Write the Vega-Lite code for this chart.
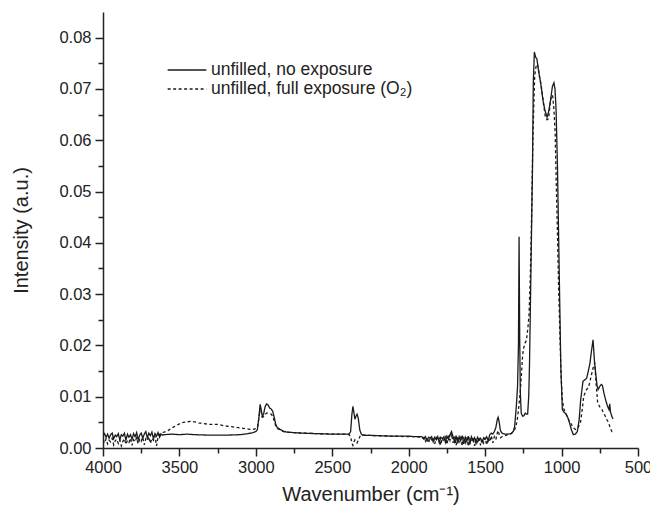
{
  "$schema": "https://vega.github.io/schema/vega-lite/v6.json",
  "width": 535,
  "height": 436,
  "autosize": "none",
  "padding": {"left": 103, "top": 12, "right": 12, "bottom": 65},
  "background": "white",
  "config": {
    "view": {"stroke": null},
    "axis": {
      "grid": false,
      "domainColor": "#222222",
      "domainWidth": 1.5,
      "tickColor": "#222222",
      "tickWidth": 1.5,
      "labelFont": "Liberation Sans",
      "labelFontSize": 16.5,
      "labelColor": "#222222",
      "titleFont": "Liberation Sans",
      "titleFontSize": 20,
      "titleFontWeight": "normal",
      "titleColor": "#222222"
    },
    "legend": {
      "labelFont": "Liberation Sans",
      "labelFontSize": 17.5,
      "labelColor": "#222222"
    }
  },
  "datasets": {
    "spectra": [
      {"w":4000,"i":0.0024,"s":"unfilled, no exposure"},{"w":3990,"i":0.0028,"s":"unfilled, no exposure"},{"w":3980,"i":0.0021,"s":"unfilled, no exposure"},{"w":3970,"i":0.0027,"s":"unfilled, no exposure"},{"w":3960,"i":0.0019,"s":"unfilled, no exposure"},{"w":3950,"i":0.0026,"s":"unfilled, no exposure"},{"w":3940,"i":0.0029,"s":"unfilled, no exposure"},{"w":3930,"i":0.0018,"s":"unfilled, no exposure"},{"w":3920,"i":0.0025,"s":"unfilled, no exposure"},{"w":3910,"i":0.0022,"s":"unfilled, no exposure"},{"w":3900,"i":0.0028,"s":"unfilled, no exposure"},{"w":3890,"i":0.0016,"s":"unfilled, no exposure"},{"w":3880,"i":0.0026,"s":"unfilled, no exposure"},{"w":3870,"i":0.0023,"s":"unfilled, no exposure"},{"w":3860,"i":0.0029,"s":"unfilled, no exposure"},{"w":3850,"i":0.0015,"s":"unfilled, no exposure"},{"w":3840,"i":0.0027,"s":"unfilled, no exposure"},{"w":3830,"i":0.0021,"s":"unfilled, no exposure"},{"w":3820,"i":0.0026,"s":"unfilled, no exposure"},{"w":3810,"i":0.0017,"s":"unfilled, no exposure"},{"w":3800,"i":0.0028,"s":"unfilled, no exposure"},{"w":3790,"i":0.0022,"s":"unfilled, no exposure"},{"w":3780,"i":0.0030,"s":"unfilled, no exposure"},{"w":3770,"i":0.0016,"s":"unfilled, no exposure"},{"w":3760,"i":0.0025,"s":"unfilled, no exposure"},{"w":3750,"i":0.0029,"s":"unfilled, no exposure"},{"w":3740,"i":0.0019,"s":"unfilled, no exposure"},{"w":3730,"i":0.0027,"s":"unfilled, no exposure"},{"w":3720,"i":0.0032,"s":"unfilled, no exposure"},{"w":3710,"i":0.0020,"s":"unfilled, no exposure"},{"w":3700,"i":0.0029,"s":"unfilled, no exposure"},{"w":3690,"i":0.0024,"s":"unfilled, no exposure"},{"w":3680,"i":0.0031,"s":"unfilled, no exposure"},{"w":3670,"i":0.0018,"s":"unfilled, no exposure"},{"w":3660,"i":0.0028,"s":"unfilled, no exposure"},{"w":3650,"i":0.0023,"s":"unfilled, no exposure"},{"w":3640,"i":0.0030,"s":"unfilled, no exposure"},{"w":3630,"i":0.0021,"s":"unfilled, no exposure"},{"w":3620,"i":0.0027,"s":"unfilled, no exposure"},{"w":3610,"i":0.0025,"s":"unfilled, no exposure"},{"w":3600,"i":0.0026,"s":"unfilled, no exposure"},{"w":3550,"i":0.0027,"s":"unfilled, no exposure"},{"w":3500,"i":0.0026,"s":"unfilled, no exposure"},{"w":3450,"i":0.0027,"s":"unfilled, no exposure"},{"w":3400,"i":0.0026,"s":"unfilled, no exposure"},{"w":3300,"i":0.0025,"s":"unfilled, no exposure"},{"w":3200,"i":0.0025,"s":"unfilled, no exposure"},{"w":3100,"i":0.0026,"s":"unfilled, no exposure"},{"w":3050,"i":0.0028,"s":"unfilled, no exposure"},{"w":3020,"i":0.0030,"s":"unfilled, no exposure"},{"w":3000,"i":0.0032,"s":"unfilled, no exposure"},{"w":2990,"i":0.0036,"s":"unfilled, no exposure"},{"w":2980,"i":0.0060,"s":"unfilled, no exposure"},{"w":2972,"i":0.0085,"s":"unfilled, no exposure"},{"w":2965,"i":0.0075,"s":"unfilled, no exposure"},{"w":2958,"i":0.0062,"s":"unfilled, no exposure"},{"w":2950,"i":0.0065,"s":"unfilled, no exposure"},{"w":2940,"i":0.0080,"s":"unfilled, no exposure"},{"w":2930,"i":0.0086,"s":"unfilled, no exposure"},{"w":2920,"i":0.0084,"s":"unfilled, no exposure"},{"w":2910,"i":0.0078,"s":"unfilled, no exposure"},{"w":2900,"i":0.0076,"s":"unfilled, no exposure"},{"w":2890,"i":0.0072,"s":"unfilled, no exposure"},{"w":2880,"i":0.0060,"s":"unfilled, no exposure"},{"w":2870,"i":0.0046,"s":"unfilled, no exposure"},{"w":2860,"i":0.0040,"s":"unfilled, no exposure"},{"w":2840,"i":0.0036,"s":"unfilled, no exposure"},{"w":2820,"i":0.0033,"s":"unfilled, no exposure"},{"w":2800,"i":0.0031,"s":"unfilled, no exposure"},{"w":2750,"i":0.0030,"s":"unfilled, no exposure"},{"w":2700,"i":0.0029,"s":"unfilled, no exposure"},{"w":2600,"i":0.0028,"s":"unfilled, no exposure"},{"w":2500,"i":0.0027,"s":"unfilled, no exposure"},{"w":2420,"i":0.0027,"s":"unfilled, no exposure"},{"w":2390,"i":0.0027,"s":"unfilled, no exposure"},{"w":2380,"i":0.0032,"s":"unfilled, no exposure"},{"w":2372,"i":0.0065,"s":"unfilled, no exposure"},{"w":2365,"i":0.0081,"s":"unfilled, no exposure"},{"w":2358,"i":0.0068,"s":"unfilled, no exposure"},{"w":2352,"i":0.0056,"s":"unfilled, no exposure"},{"w":2345,"i":0.0062,"s":"unfilled, no exposure"},{"w":2338,"i":0.0066,"s":"unfilled, no exposure"},{"w":2330,"i":0.0058,"s":"unfilled, no exposure"},{"w":2320,"i":0.0035,"s":"unfilled, no exposure"},{"w":2310,"i":0.0027,"s":"unfilled, no exposure"},{"w":2300,"i":0.0025,"s":"unfilled, no exposure"},{"w":2200,"i":0.0024,"s":"unfilled, no exposure"},{"w":2100,"i":0.0023,"s":"unfilled, no exposure"},{"w":2000,"i":0.0023,"s":"unfilled, no exposure"},{"w":1950,"i":0.0022,"s":"unfilled, no exposure"},{"w":1920,"i":0.0022,"s":"unfilled, no exposure"},
      {"w":1910,"i":0.0021,"s":"unfilled, no exposure"},{"w":1900,"i":0.0017,"s":"unfilled, no exposure"},{"w":1890,"i":0.0022,"s":"unfilled, no exposure"},{"w":1880,"i":0.0014,"s":"unfilled, no exposure"},{"w":1870,"i":0.0021,"s":"unfilled, no exposure"},{"w":1860,"i":0.0019,"s":"unfilled, no exposure"},{"w":1850,"i":0.0022,"s":"unfilled, no exposure"},{"w":1840,"i":0.0012,"s":"unfilled, no exposure"},{"w":1830,"i":0.0021,"s":"unfilled, no exposure"},{"w":1820,"i":0.0016,"s":"unfilled, no exposure"},{"w":1810,"i":0.0022,"s":"unfilled, no exposure"},{"w":1800,"i":0.0010,"s":"unfilled, no exposure"},{"w":1790,"i":0.0021,"s":"unfilled, no exposure"},{"w":1780,"i":0.0018,"s":"unfilled, no exposure"},{"w":1770,"i":0.0022,"s":"unfilled, no exposure"},{"w":1760,"i":0.0011,"s":"unfilled, no exposure"},{"w":1750,"i":0.0023,"s":"unfilled, no exposure"},{"w":1740,"i":0.0017,"s":"unfilled, no exposure"},{"w":1730,"i":0.0026,"s":"unfilled, no exposure"},{"w":1720,"i":0.0032,"s":"unfilled, no exposure"},{"w":1710,"i":0.0022,"s":"unfilled, no exposure"},{"w":1700,"i":0.0012,"s":"unfilled, no exposure"},{"w":1690,"i":0.0024,"s":"unfilled, no exposure"},{"w":1680,"i":0.0009,"s":"unfilled, no exposure"},{"w":1670,"i":0.0022,"s":"unfilled, no exposure"},{"w":1660,"i":0.0014,"s":"unfilled, no exposure"},{"w":1650,"i":0.0024,"s":"unfilled, no exposure"},{"w":1640,"i":0.0008,"s":"unfilled, no exposure"},{"w":1630,"i":0.0021,"s":"unfilled, no exposure"},{"w":1620,"i":0.0013,"s":"unfilled, no exposure"},{"w":1610,"i":0.0023,"s":"unfilled, no exposure"},{"w":1600,"i":0.0007,"s":"unfilled, no exposure"},{"w":1590,"i":0.0022,"s":"unfilled, no exposure"},{"w":1580,"i":0.0015,"s":"unfilled, no exposure"},{"w":1570,"i":0.0020,"s":"unfilled, no exposure"},{"w":1560,"i":0.0009,"s":"unfilled, no exposure"},{"w":1550,"i":0.0021,"s":"unfilled, no exposure"},{"w":1540,"i":0.0016,"s":"unfilled, no exposure"},{"w":1530,"i":0.0019,"s":"unfilled, no exposure"},{"w":1520,"i":0.0011,"s":"unfilled, no exposure"},{"w":1510,"i":0.0020,"s":"unfilled, no exposure"},{"w":1500,"i":0.0017,"s":"unfilled, no exposure"},{"w":1490,"i":0.0022,"s":"unfilled, no exposure"},{"w":1480,"i":0.0014,"s":"unfilled, no exposure"},{"w":1470,"i":0.0026,"s":"unfilled, no exposure"},{"w":1460,"i":0.0029,"s":"unfilled, no exposure"},{"w":1450,"i":0.0027,"s":"unfilled, no exposure"},{"w":1440,"i":0.0032,"s":"unfilled, no exposure"},{"w":1430,"i":0.0040,"s":"unfilled, no exposure"},{"w":1420,"i":0.0056,"s":"unfilled, no exposure"},{"w":1415,"i":0.0060,"s":"unfilled, no exposure"},{"w":1408,"i":0.0050,"s":"unfilled, no exposure"},{"w":1400,"i":0.0034,"s":"unfilled, no exposure"},{"w":1390,"i":0.0029,"s":"unfilled, no exposure"},{"w":1370,"i":0.0027,"s":"unfilled, no exposure"},{"w":1350,"i":0.0027,"s":"unfilled, no exposure"},{"w":1330,"i":0.0028,"s":"unfilled, no exposure"},{"w":1315,"i":0.0033,"s":"unfilled, no exposure"},{"w":1307,"i":0.0042,"s":"unfilled, no exposure"},{"w":1296,"i":0.0081,"s":"unfilled, no exposure"},{"w":1288,"i":0.0120,"s":"unfilled, no exposure"},{"w":1282,"i":0.0200,"s":"unfilled, no exposure"},{"w":1278,"i":0.0412,"s":"unfilled, no exposure"},{"w":1274,"i":0.0220,"s":"unfilled, no exposure"},{"w":1270,"i":0.0110,"s":"unfilled, no exposure"},{"w":1264,"i":0.0068,"s":"unfilled, no exposure"},{"w":1255,"i":0.0062,"s":"unfilled, no exposure"},{"w":1246,"i":0.0063,"s":"unfilled, no exposure"},{"w":1238,"i":0.0068,"s":"unfilled, no exposure"},{"w":1231,"i":0.0066,"s":"unfilled, no exposure"},{"w":1222,"i":0.0066,"s":"unfilled, no exposure"},{"w":1215,"i":0.0100,"s":"unfilled, no exposure"},{"w":1210,"i":0.0160,"s":"unfilled, no exposure"},{"w":1200,"i":0.0354,"s":"unfilled, no exposure"},{"w":1190,"i":0.0550,"s":"unfilled, no exposure"},{"w":1185,"i":0.0712,"s":"unfilled, no exposure"},{"w":1178,"i":0.0772,"s":"unfilled, no exposure"},{"w":1170,"i":0.0762,"s":"unfilled, no exposure"},{"w":1162,"i":0.0759,"s":"unfilled, no exposure"},{"w":1150,"i":0.0735,"s":"unfilled, no exposure"},{"w":1137,"i":0.0712,"s":"unfilled, no exposure"},{"w":1120,"i":0.0675,"s":"unfilled, no exposure"},{"w":1110,"i":0.0660,"s":"unfilled, no exposure"},{"w":1095,"i":0.0645,"s":"unfilled, no exposure"},{"w":1085,"i":0.0655,"s":"unfilled, no exposure"},{"w":1071,"i":0.0680,"s":"unfilled, no exposure"},{"w":1060,"i":0.0705,"s":"unfilled, no exposure"},{"w":1050,"i":0.0712,"s":"unfilled, no exposure"},{"w":1043,"i":0.0700,"s":"unfilled, no exposure"},{"w":1036,"i":0.0660,"s":"unfilled, no exposure"},{"w":1027,"i":0.0550,"s":"unfilled, no exposure"},{"w":1016,"i":0.0354,"s":"unfilled, no exposure"},{"w":1005,"i":0.0160,"s":"unfilled, no exposure"},{"w":995,"i":0.0075,"s":"unfilled, no exposure"},{"w":985,"i":0.0070,"s":"unfilled, no exposure"},{"w":973,"i":0.0067,"s":"unfilled, no exposure"},{"w":960,"i":0.0060,"s":"unfilled, no exposure"},{"w":951,"i":0.0052,"s":"unfilled, no exposure"},{"w":935,"i":0.0035,"s":"unfilled, no exposure"},{"w":923,"i":0.0026,"s":"unfilled, no exposure"},{"w":910,"i":0.0027,"s":"unfilled, no exposure"},{"w":897,"i":0.0032,"s":"unfilled, no exposure"},{"w":885,"i":0.0055,"s":"unfilled, no exposure"},{"w":875,"i":0.0094,"s":"unfilled, no exposure"},{"w":860,"i":0.0130,"s":"unfilled, no exposure"},{"w":848,"i":0.0133,"s":"unfilled, no exposure"},{"w":836,"i":0.0136,"s":"unfilled, no exposure"},{"w":825,"i":0.0150,"s":"unfilled, no exposure"},{"w":814,"i":0.0166,"s":"unfilled, no exposure"},{"w":804,"i":0.0190,"s":"unfilled, no exposure"},{"w":794,"i":0.0211,"s":"unfilled, no exposure"},{"w":785,"i":0.0170,"s":"unfilled, no exposure"},{"w":777,"i":0.0146,"s":"unfilled, no exposure"},{"w":768,"i":0.0122,"s":"unfilled, no exposure"},{"w":761,"i":0.0114,"s":"unfilled, no exposure"},{"w":750,"i":0.0120,"s":"unfilled, no exposure"},{"w":740,"i":0.0124,"s":"unfilled, no exposure"},{"w":733,"i":0.0122,"s":"unfilled, no exposure"},{"w":722,"i":0.0106,"s":"unfilled, no exposure"},{"w":712,"i":0.0094,"s":"unfilled, no exposure"},{"w":700,"i":0.0082,"s":"unfilled, no exposure"},{"w":690,"i":0.0075,"s":"unfilled, no exposure"},{"w":685,"i":0.0086,"s":"unfilled, no exposure"},{"w":680,"i":0.0070,"s":"unfilled, no exposure"},{"w":668,"i":0.0059,"s":"unfilled, no exposure"},{"w":662,"i":0.0057,"s":"unfilled, no exposure"},
      {"w":4000,"i":0.0016,"s":"unfilled, full exposure (O₂)"},{"w":3990,"i":0.0010,"s":"unfilled, full exposure (O₂)"},{"w":3980,"i":0.0018,"s":"unfilled, full exposure (O₂)"},{"w":3970,"i":0.0008,"s":"unfilled, full exposure (O₂)"},{"w":3960,"i":0.0015,"s":"unfilled, full exposure (O₂)"},{"w":3950,"i":0.0012,"s":"unfilled, full exposure (O₂)"},{"w":3940,"i":0.0019,"s":"unfilled, full exposure (O₂)"},{"w":3930,"i":0.0006,"s":"unfilled, full exposure (O₂)"},{"w":3920,"i":0.0014,"s":"unfilled, full exposure (O₂)"},{"w":3910,"i":0.0017,"s":"unfilled, full exposure (O₂)"},{"w":3900,"i":0.0009,"s":"unfilled, full exposure (O₂)"},{"w":3890,"i":0.0016,"s":"unfilled, full exposure (O₂)"},{"w":3880,"i":0.0004,"s":"unfilled, full exposure (O₂)"},{"w":3870,"i":0.0013,"s":"unfilled, full exposure (O₂)"},{"w":3860,"i":0.0018,"s":"unfilled, full exposure (O₂)"},{"w":3850,"i":0.0007,"s":"unfilled, full exposure (O₂)"},{"w":3840,"i":0.0015,"s":"unfilled, full exposure (O₂)"},{"w":3830,"i":0.0011,"s":"unfilled, full exposure (O₂)"},{"w":3820,"i":0.0019,"s":"unfilled, full exposure (O₂)"},{"w":3810,"i":0.0005,"s":"unfilled, full exposure (O₂)"},{"w":3800,"i":0.0016,"s":"unfilled, full exposure (O₂)"},{"w":3790,"i":0.0012,"s":"unfilled, full exposure (O₂)"},{"w":3780,"i":0.0020,"s":"unfilled, full exposure (O₂)"},{"w":3770,"i":0.0008,"s":"unfilled, full exposure (O₂)"},{"w":3760,"i":0.0017,"s":"unfilled, full exposure (O₂)"},{"w":3750,"i":0.0013,"s":"unfilled, full exposure (O₂)"},{"w":3740,"i":0.0021,"s":"unfilled, full exposure (O₂)"},{"w":3730,"i":0.0006,"s":"unfilled, full exposure (O₂)"},{"w":3720,"i":0.0018,"s":"unfilled, full exposure (O₂)"},{"w":3710,"i":0.0014,"s":"unfilled, full exposure (O₂)"},{"w":3700,"i":0.0022,"s":"unfilled, full exposure (O₂)"},{"w":3690,"i":0.0009,"s":"unfilled, full exposure (O₂)"},{"w":3680,"i":0.0019,"s":"unfilled, full exposure (O₂)"},{"w":3670,"i":0.0015,"s":"unfilled, full exposure (O₂)"},{"w":3660,"i":0.0024,"s":"unfilled, full exposure (O₂)"},{"w":3650,"i":0.0004,"s":"unfilled, full exposure (O₂)"},{"w":3640,"i":0.0021,"s":"unfilled, full exposure (O₂)"},{"w":3630,"i":0.0026,"s":"unfilled, full exposure (O₂)"},{"w":3620,"i":0.0030,"s":"unfilled, full exposure (O₂)"},{"w":3600,"i":0.0031,"s":"unfilled, full exposure (O₂)"},{"w":3575,"i":0.0034,"s":"unfilled, full exposure (O₂)"},{"w":3550,"i":0.0039,"s":"unfilled, full exposure (O₂)"},{"w":3525,"i":0.0043,"s":"unfilled, full exposure (O₂)"},{"w":3500,"i":0.0047,"s":"unfilled, full exposure (O₂)"},{"w":3475,"i":0.0050,"s":"unfilled, full exposure (O₂)"},{"w":3450,"i":0.0051,"s":"unfilled, full exposure (O₂)"},{"w":3425,"i":0.0052,"s":"unfilled, full exposure (O₂)"},{"w":3400,"i":0.0051,"s":"unfilled, full exposure (O₂)"},{"w":3375,"i":0.0049,"s":"unfilled, full exposure (O₂)"},{"w":3350,"i":0.0048,"s":"unfilled, full exposure (O₂)"},{"w":3300,"i":0.0046,"s":"unfilled, full exposure (O₂)"},{"w":3250,"i":0.0046,"s":"unfilled, full exposure (O₂)"},{"w":3200,"i":0.0043,"s":"unfilled, full exposure (O₂)"},{"w":3150,"i":0.0041,"s":"unfilled, full exposure (O₂)"},{"w":3100,"i":0.0039,"s":"unfilled, full exposure (O₂)"},{"w":3050,"i":0.0037,"s":"unfilled, full exposure (O₂)"},{"w":3020,"i":0.0036,"s":"unfilled, full exposure (O₂)"},{"w":3000,"i":0.0038,"s":"unfilled, full exposure (O₂)"},{"w":2990,"i":0.0040,"s":"unfilled, full exposure (O₂)"},{"w":2980,"i":0.0058,"s":"unfilled, full exposure (O₂)"},{"w":2972,"i":0.0078,"s":"unfilled, full exposure (O₂)"},{"w":2965,"i":0.0070,"s":"unfilled, full exposure (O₂)"},{"w":2958,"i":0.0060,"s":"unfilled, full exposure (O₂)"},{"w":2950,"i":0.0061,"s":"unfilled, full exposure (O₂)"},{"w":2940,"i":0.0065,"s":"unfilled, full exposure (O₂)"},{"w":2930,"i":0.0068,"s":"unfilled, full exposure (O₂)"},{"w":2920,"i":0.0068,"s":"unfilled, full exposure (O₂)"},{"w":2910,"i":0.0067,"s":"unfilled, full exposure (O₂)"},{"w":2900,"i":0.0066,"s":"unfilled, full exposure (O₂)"},{"w":2890,"i":0.0062,"s":"unfilled, full exposure (O₂)"},{"w":2880,"i":0.0053,"s":"unfilled, full exposure (O₂)"},{"w":2870,"i":0.0043,"s":"unfilled, full exposure (O₂)"},{"w":2860,"i":0.0038,"s":"unfilled, full exposure (O₂)"},{"w":2840,"i":0.0035,"s":"unfilled, full exposure (O₂)"},{"w":2820,"i":0.0032,"s":"unfilled, full exposure (O₂)"},{"w":2800,"i":0.0031,"s":"unfilled, full exposure (O₂)"},{"w":2750,"i":0.0030,"s":"unfilled, full exposure (O₂)"},{"w":2700,"i":0.0029,"s":"unfilled, full exposure (O₂)"},{"w":2600,"i":0.0028,"s":"unfilled, full exposure (O₂)"},{"w":2500,"i":0.0027,"s":"unfilled, full exposure (O₂)"},{"w":2420,"i":0.0027,"s":"unfilled, full exposure (O₂)"},{"w":2390,"i":0.0026,"s":"unfilled, full exposure (O₂)"},{"w":2380,"i":0.0022,"s":"unfilled, full exposure (O₂)"},{"w":2372,"i":0.0010,"s":"unfilled, full exposure (O₂)"},{"w":2365,"i":0.0005,"s":"unfilled, full exposure (O₂)"},{"w":2358,"i":0.0012,"s":"unfilled, full exposure (O₂)"},{"w":2352,"i":0.0016,"s":"unfilled, full exposure (O₂)"},{"w":2345,"i":0.0013,"s":"unfilled, full exposure (O₂)"},{"w":2338,"i":0.0010,"s":"unfilled, full exposure (O₂)"},{"w":2330,"i":0.0015,"s":"unfilled, full exposure (O₂)"},{"w":2320,"i":0.0022,"s":"unfilled, full exposure (O₂)"},{"w":2310,"i":0.0026,"s":"unfilled, full exposure (O₂)"},{"w":2300,"i":0.0025,"s":"unfilled, full exposure (O₂)"},{"w":2200,"i":0.0024,"s":"unfilled, full exposure (O₂)"},{"w":2100,"i":0.0023,"s":"unfilled, full exposure (O₂)"},{"w":2000,"i":0.0022,"s":"unfilled, full exposure (O₂)"},{"w":1950,"i":0.0022,"s":"unfilled, full exposure (O₂)"},{"w":1920,"i":0.0021,"s":"unfilled, full exposure (O₂)"},
      {"w":1910,"i":0.0019,"s":"unfilled, full exposure (O₂)"},{"w":1900,"i":0.0021,"s":"unfilled, full exposure (O₂)"},{"w":1890,"i":0.0013,"s":"unfilled, full exposure (O₂)"},{"w":1880,"i":0.0020,"s":"unfilled, full exposure (O₂)"},{"w":1870,"i":0.0010,"s":"unfilled, full exposure (O₂)"},{"w":1860,"i":0.0021,"s":"unfilled, full exposure (O₂)"},{"w":1850,"i":0.0016,"s":"unfilled, full exposure (O₂)"},{"w":1840,"i":0.0020,"s":"unfilled, full exposure (O₂)"},{"w":1830,"i":0.0008,"s":"unfilled, full exposure (O₂)"},{"w":1820,"i":0.0020,"s":"unfilled, full exposure (O₂)"},{"w":1810,"i":0.0014,"s":"unfilled, full exposure (O₂)"},{"w":1800,"i":0.0019,"s":"unfilled, full exposure (O₂)"},{"w":1790,"i":0.0006,"s":"unfilled, full exposure (O₂)"},{"w":1780,"i":0.0020,"s":"unfilled, full exposure (O₂)"},{"w":1770,"i":0.0013,"s":"unfilled, full exposure (O₂)"},{"w":1760,"i":0.0021,"s":"unfilled, full exposure (O₂)"},{"w":1750,"i":0.0007,"s":"unfilled, full exposure (O₂)"},{"w":1740,"i":0.0024,"s":"unfilled, full exposure (O₂)"},{"w":1730,"i":0.0015,"s":"unfilled, full exposure (O₂)"},{"w":1720,"i":0.0028,"s":"unfilled, full exposure (O₂)"},{"w":1710,"i":0.0010,"s":"unfilled, full exposure (O₂)"},{"w":1700,"i":0.0022,"s":"unfilled, full exposure (O₂)"},{"w":1690,"i":0.0005,"s":"unfilled, full exposure (O₂)"},{"w":1680,"i":0.0021,"s":"unfilled, full exposure (O₂)"},{"w":1670,"i":0.0012,"s":"unfilled, full exposure (O₂)"},{"w":1660,"i":0.0020,"s":"unfilled, full exposure (O₂)"},{"w":1650,"i":0.0004,"s":"unfilled, full exposure (O₂)"},{"w":1640,"i":0.0019,"s":"unfilled, full exposure (O₂)"},{"w":1630,"i":0.0010,"s":"unfilled, full exposure (O₂)"},{"w":1620,"i":0.0021,"s":"unfilled, full exposure (O₂)"},{"w":1610,"i":0.0003,"s":"unfilled, full exposure (O₂)"},{"w":1600,"i":0.0018,"s":"unfilled, full exposure (O₂)"},{"w":1590,"i":0.0012,"s":"unfilled, full exposure (O₂)"},{"w":1580,"i":0.0020,"s":"unfilled, full exposure (O₂)"},{"w":1570,"i":0.0004,"s":"unfilled, full exposure (O₂)"},{"w":1560,"i":0.0019,"s":"unfilled, full exposure (O₂)"},{"w":1550,"i":0.0008,"s":"unfilled, full exposure (O₂)"},{"w":1540,"i":0.0021,"s":"unfilled, full exposure (O₂)"},{"w":1530,"i":0.0005,"s":"unfilled, full exposure (O₂)"},{"w":1520,"i":0.0018,"s":"unfilled, full exposure (O₂)"},{"w":1510,"i":0.0010,"s":"unfilled, full exposure (O₂)"},{"w":1500,"i":0.0020,"s":"unfilled, full exposure (O₂)"},{"w":1490,"i":0.0006,"s":"unfilled, full exposure (O₂)"},{"w":1480,"i":0.0019,"s":"unfilled, full exposure (O₂)"},{"w":1470,"i":0.0012,"s":"unfilled, full exposure (O₂)"},{"w":1460,"i":0.0024,"s":"unfilled, full exposure (O₂)"},{"w":1450,"i":0.0010,"s":"unfilled, full exposure (O₂)"},{"w":1440,"i":0.0022,"s":"unfilled, full exposure (O₂)"},{"w":1430,"i":0.0016,"s":"unfilled, full exposure (O₂)"},{"w":1420,"i":0.0030,"s":"unfilled, full exposure (O₂)"},{"w":1415,"i":0.0034,"s":"unfilled, full exposure (O₂)"},{"w":1408,"i":0.0026,"s":"unfilled, full exposure (O₂)"},{"w":1400,"i":0.0020,"s":"unfilled, full exposure (O₂)"},{"w":1390,"i":0.0022,"s":"unfilled, full exposure (O₂)"},{"w":1370,"i":0.0024,"s":"unfilled, full exposure (O₂)"},{"w":1350,"i":0.0026,"s":"unfilled, full exposure (O₂)"},{"w":1330,"i":0.0028,"s":"unfilled, full exposure (O₂)"},{"w":1315,"i":0.0032,"s":"unfilled, full exposure (O₂)"},{"w":1300,"i":0.0040,"s":"unfilled, full exposure (O₂)"},{"w":1290,"i":0.0055,"s":"unfilled, full exposure (O₂)"},{"w":1280,"i":0.0080,"s":"unfilled, full exposure (O₂)"},{"w":1270,"i":0.0110,"s":"unfilled, full exposure (O₂)"},{"w":1263,"i":0.0140,"s":"unfilled, full exposure (O₂)"},{"w":1255,"i":0.0180,"s":"unfilled, full exposure (O₂)"},{"w":1248,"i":0.0195,"s":"unfilled, full exposure (O₂)"},{"w":1238,"i":0.0205,"s":"unfilled, full exposure (O₂)"},{"w":1230,"i":0.0210,"s":"unfilled, full exposure (O₂)"},{"w":1220,"i":0.0235,"s":"unfilled, full exposure (O₂)"},{"w":1213,"i":0.0260,"s":"unfilled, full exposure (O₂)"},{"w":1205,"i":0.0330,"s":"unfilled, full exposure (O₂)"},{"w":1198,"i":0.0420,"s":"unfilled, full exposure (O₂)"},{"w":1187,"i":0.0615,"s":"unfilled, full exposure (O₂)"},{"w":1176,"i":0.0725,"s":"unfilled, full exposure (O₂)"},{"w":1165,"i":0.0748,"s":"unfilled, full exposure (O₂)"},{"w":1155,"i":0.0745,"s":"unfilled, full exposure (O₂)"},{"w":1145,"i":0.0725,"s":"unfilled, full exposure (O₂)"},{"w":1133,"i":0.0706,"s":"unfilled, full exposure (O₂)"},{"w":1120,"i":0.0675,"s":"unfilled, full exposure (O₂)"},{"w":1107,"i":0.0647,"s":"unfilled, full exposure (O₂)"},{"w":1095,"i":0.0640,"s":"unfilled, full exposure (O₂)"},{"w":1085,"i":0.0642,"s":"unfilled, full exposure (O₂)"},{"w":1075,"i":0.0670,"s":"unfilled, full exposure (O₂)"},{"w":1066,"i":0.0688,"s":"unfilled, full exposure (O₂)"},{"w":1058,"i":0.0686,"s":"unfilled, full exposure (O₂)"},{"w":1050,"i":0.0660,"s":"unfilled, full exposure (O₂)"},{"w":1042,"i":0.0615,"s":"unfilled, full exposure (O₂)"},{"w":1035,"i":0.0520,"s":"unfilled, full exposure (O₂)"},{"w":1027,"i":0.0420,"s":"unfilled, full exposure (O₂)"},{"w":1020,"i":0.0320,"s":"unfilled, full exposure (O₂)"},{"w":1011,"i":0.0224,"s":"unfilled, full exposure (O₂)"},{"w":1003,"i":0.0140,"s":"unfilled, full exposure (O₂)"},{"w":995,"i":0.0094,"s":"unfilled, full exposure (O₂)"},{"w":985,"i":0.0076,"s":"unfilled, full exposure (O₂)"},{"w":973,"i":0.0068,"s":"unfilled, full exposure (O₂)"},{"w":960,"i":0.0060,"s":"unfilled, full exposure (O₂)"},{"w":950,"i":0.0053,"s":"unfilled, full exposure (O₂)"},{"w":941,"i":0.0049,"s":"unfilled, full exposure (O₂)"},{"w":925,"i":0.0040,"s":"unfilled, full exposure (O₂)"},{"w":908,"i":0.0036,"s":"unfilled, full exposure (O₂)"},{"w":892,"i":0.0040,"s":"unfilled, full exposure (O₂)"},{"w":876,"i":0.0050,"s":"unfilled, full exposure (O₂)"},{"w":865,"i":0.0075,"s":"unfilled, full exposure (O₂)"},{"w":855,"i":0.0101,"s":"unfilled, full exposure (O₂)"},{"w":840,"i":0.0112,"s":"unfilled, full exposure (O₂)"},{"w":822,"i":0.0120,"s":"unfilled, full exposure (O₂)"},{"w":808,"i":0.0138,"s":"unfilled, full exposure (O₂)"},{"w":794,"i":0.0156,"s":"unfilled, full exposure (O₂)"},{"w":783,"i":0.0166,"s":"unfilled, full exposure (O₂)"},{"w":775,"i":0.0130,"s":"unfilled, full exposure (O₂)"},{"w":764,"i":0.0088,"s":"unfilled, full exposure (O₂)"},{"w":750,"i":0.0080,"s":"unfilled, full exposure (O₂)"},{"w":736,"i":0.0075,"s":"unfilled, full exposure (O₂)"},{"w":725,"i":0.0068,"s":"unfilled, full exposure (O₂)"},{"w":714,"i":0.0062,"s":"unfilled, full exposure (O₂)"},{"w":703,"i":0.0055,"s":"unfilled, full exposure (O₂)"},{"w":692,"i":0.0049,"s":"unfilled, full exposure (O₂)"},{"w":680,"i":0.0038,"s":"unfilled, full exposure (O₂)"},{"w":671,"i":0.0032,"s":"unfilled, full exposure (O₂)"},{"w":665,"i":0.0031,"s":"unfilled, full exposure (O₂)"}
    ]
  },
  "data": {"name": "spectra"},
  "mark": {"type": "line", "stroke": "#1a1a1a", "strokeWidth": 1.3, "clip": true},
  "encoding": {
    "x": {
      "field": "w",
      "type": "quantitative",
      "scale": {"domain": [500, 4000], "reverse": true, "nice": false, "zero": false},
      "axis": {
        "title": "Wavenumber (cm⁻¹)",
        "values": [4000, 3750, 3500, 3250, 3000, 2750, 2500, 2250, 2000, 1750, 1500, 1250, 1000, 750, 500],
        "labelExpr": "datum.value % 500 === 0 ? format(datum.value, 'd') : ''",
        "tickSize": {"condition": {"test": "datum.value % 500 === 0", "value": 8}, "value": 5},
        "labelPadding": 3,
        "labelFlush": false,
        "labelOverlap": false,
        "titlePadding": 9
      }
    },
    "y": {
      "field": "i",
      "type": "quantitative",
      "scale": {"domain": [0, 0.085], "nice": false, "zero": true},
      "axis": {
        "title": "Intensity (a.u.)",
        "values": [0, 0.005, 0.01, 0.015, 0.02, 0.025, 0.03, 0.035, 0.04, 0.045, 0.05, 0.055, 0.06, 0.065, 0.07, 0.075, 0.08],
        "labelExpr": "round(datum.value * 1000) % 10 === 0 ? format(datum.value, '.2f') : ''",
        "tickSize": {"condition": {"test": "round(datum.value * 1000) % 10 === 0", "value": 8}, "value": 5},
        "labelPadding": 4,
        "labelFlush": false,
        "labelOverlap": false,
        "titlePadding": 27
      }
    },
    "strokeDash": {
      "field": "s",
      "type": "nominal",
      "scale": {
        "domain": ["unfilled, no exposure", "unfilled, full exposure (O₂)"],
        "range": [[1, 0], [3, 2.5]]
      },
      "legend": {
        "title": null,
        "orient": "none",
        "legendX": 74,
        "legendY": 48,
        "symbolType": "M-2.1,0H2.1",
        "symbolSize": 340,
        "symbolStrokeWidth": 1.3,
        "symbolStrokeColor": "#1a1a1a",
        "symbolFillColor": "transparent",
        "labelOffset": 14,
        "labelLimit": 0,
        "rowPadding": 0
      }
    }
  }
}
